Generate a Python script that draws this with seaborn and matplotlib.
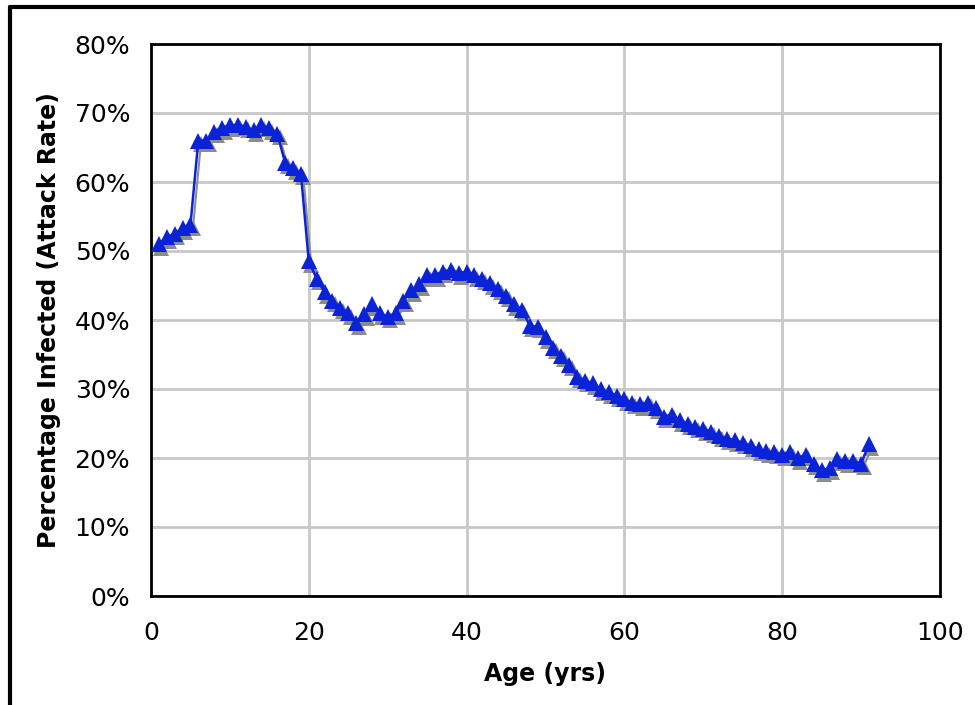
import numpy as np
import pandas as pd
import matplotlib
matplotlib.use("Agg")
import matplotlib.pyplot as plt
import matplotlib.transforms as mtransforms
from matplotlib.ticker import FuncFormatter
import seaborn as sns

ages = list(range(1, 92))
attack_rate = [
    51.0, 52.0, 52.5, 53.3, 53.8, 66.0, 66.0, 67.3, 67.8, 68.2,
    68.3, 68.0, 67.5, 68.2, 67.8, 67.0, 62.8, 62.0, 61.2, 48.5,
    46.0, 44.0, 42.8, 41.8, 41.0, 39.5, 40.8, 42.3, 41.0, 40.5,
    41.0, 42.8, 44.3, 45.2, 46.5, 46.5, 47.0, 47.3, 46.8, 47.0,
    46.5, 46.0, 45.3, 44.5, 43.5, 42.3, 41.5, 39.2, 39.0, 37.5,
    36.0, 34.8, 33.5, 31.8, 31.2, 30.8, 30.0, 29.5, 29.0, 28.5,
    28.0, 27.8, 28.0, 27.3, 26.0, 26.3, 25.5, 25.0, 24.5, 24.2,
    23.8, 23.2, 22.8, 22.6, 22.2, 21.8, 21.3, 21.0, 20.8, 20.5,
    20.8, 20.0, 20.5, 19.2, 18.2, 18.5, 19.8, 19.5, 19.5, 19.2,
    22.0,
]
x_ticks = [0, 20, 40, 60, 80, 100]
y_ticks = [0, 10, 20, 30, 40, 50, 60, 70, 80]

df = pd.DataFrame({"Age": ages, "Rate": attack_rate})

sns.set_theme(style="white")
plt.rcParams["font.family"] = ["DejaVu Sans"]

fig = plt.figure(figsize=(9.75, 7.05), dpi=100)
ax = fig.add_axes([151 / 975, 1 - 596 / 705, (940 - 151) / 975, (596 - 44) / 705])

# shadow layer
shadow = mtransforms.offset_copy(ax.transData, fig=fig, x=2.5, y=-3.5, units="dots")
sns.lineplot(data=df, x="Age", y="Rate", ax=ax, color="#8c8c8c", marker="^",
             markersize=11, markeredgewidth=0, linewidth=1.5, transform=shadow,
             zorder=2, legend=False)
sns.lineplot(data=df, x="Age", y="Rate", ax=ax, color="#0a22d8", marker="^",
             markersize=11, markeredgewidth=0, linewidth=1.8, zorder=3,
             legend=False)

ax.set_xlim(0, 100)
ax.set_ylim(0, 80)
ax.set_xticks(x_ticks)
ax.set_yticks(y_ticks)
ax.yaxis.set_major_formatter(FuncFormatter(lambda v, p: f"{v:.0f}%"))
ax.grid(True, color="#c8c8c8", linewidth=2)
ax.set_axisbelow(True)
for s in ax.spines.values():
    s.set_visible(True)
    s.set_color("black")
    s.set_linewidth(2)
ax.tick_params(axis="both", direction="out", length=8, width=1, color="#555555",
               labelsize=18, labelcolor="black", pad=7)
ax.tick_params(axis="x", pad=10)
ax.set_xlabel("Age (yrs)", fontsize=17, fontweight="bold", labelpad=12,
              color="black")
ax.set_ylabel("Percentage Infected (Attack Rate)", fontsize=17, fontweight="bold",
              labelpad=10, color="black")

# outer frame (top and left edges)
fig.add_artist(plt.Line2D([10 / 975, 10 / 975], [0, 1 - 7 / 705],
                          transform=fig.transFigure, color="black", linewidth=3))
fig.add_artist(plt.Line2D([10 / 975, 1], [1 - 7 / 705, 1 - 7 / 705],
                          transform=fig.transFigure, color="black", linewidth=3))

fig.savefig("out.png", dpi=100)
